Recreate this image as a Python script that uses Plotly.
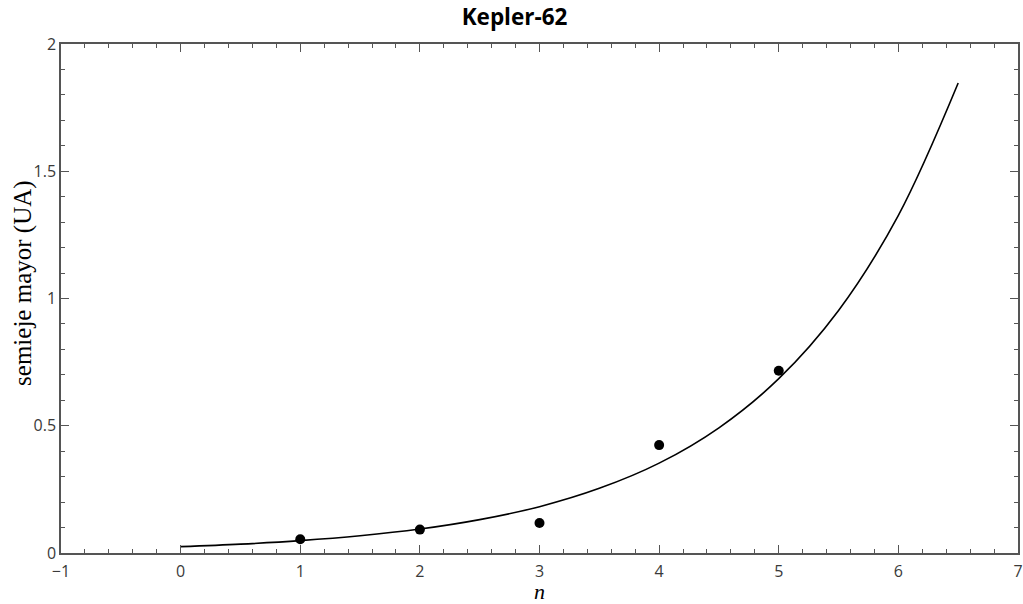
import plotly.graph_objects as go

# observed planets (Kepler-62): index n and semi-major axis (UA)
n_obs = [1, 2, 3, 4, 5]
a_obs = [0.054, 0.092, 0.118, 0.424, 0.716]

# fitted curve values
n_fit = [0, 0.5, 1, 1.5, 2, 2.5, 3, 3.5, 4, 4.5, 5, 5.5, 6, 6.5]
a_fit = [0.025, 0.0348, 0.0485, 0.0675, 0.094, 0.131, 0.182, 0.254,
         0.353, 0.492, 0.685, 0.953, 1.327, 1.847]

x_ticks = [-1, 0, 1, 2, 3, 4, 5, 6, 7]
y_ticks = [0, 0.5, 1, 1.5, 2]
y_tick_labels = ["0", "0.5", "1", "1.5", "2"]

fig = go.Figure()
fig.add_trace(go.Scatter(x=n_fit, y=a_fit, mode="lines",
                         line=dict(color="black", width=1.6, shape="spline"),
                         showlegend=False, hoverinfo="skip"))
fig.add_trace(go.Scatter(x=n_obs, y=a_obs, mode="markers",
                         marker=dict(color="black", size=10),
                         showlegend=False))

axis_common = dict(
    showgrid=False, zeroline=False, showline=True, linecolor="#555555",
    linewidth=1.5, mirror="allticks", ticks="inside", ticklen=8,
    tickwidth=1.3, tickcolor="#555555", automargin=False,
    tickfont=dict(family="Open Sans", size=16, color="#3a3a3a"),
)

fig.update_xaxes(range=[-1, 7], tickvals=x_ticks, ticklabelstandoff=3,
                 minor=dict(dtick=0.2, ticks="inside", ticklen=4,
                            tickwidth=1.1, tickcolor="#555555", showgrid=False),
                 **axis_common)
fig.update_yaxes(range=[0, 2], tickvals=y_ticks, ticktext=y_tick_labels,
                 minor=dict(dtick=0.1, ticks="inside", ticklen=4,
                            tickwidth=1.1, tickcolor="#555555", showgrid=False),
                 **axis_common)

fig.add_annotation(text="<i>n</i>", showarrow=False,
                   xref="paper", yref="paper", x=0.4998, y=-0.0765,
                   xanchor="center", yanchor="middle",
                   font=dict(family="Liberation Serif", size=22, color="black"))
fig.add_annotation(text="semieje mayor (UA)", textangle=-90, showarrow=False,
                   xref="paper", yref="paper", x=-0.039, y=0.53,
                   xanchor="center", yanchor="middle",
                   font=dict(family="Liberation Serif", size=25, color="black"))

fig.update_layout(
    width=1023, height=604,
    margin=dict(l=61, r=5, t=44, b=51),
    plot_bgcolor="white", paper_bgcolor="white",
    title=dict(text="<b>Kepler-62</b>", x=0.503, xanchor="center",
               y=0.972, yanchor="middle", yref="container", automargin=False,
               font=dict(family="Open Sans", size=22.5, color="black")),
)

fig.write_html("out.html", config={"displayModeBar": False},
               post_script="document.body.style.margin='0';document.body.style.overflow='hidden';")
